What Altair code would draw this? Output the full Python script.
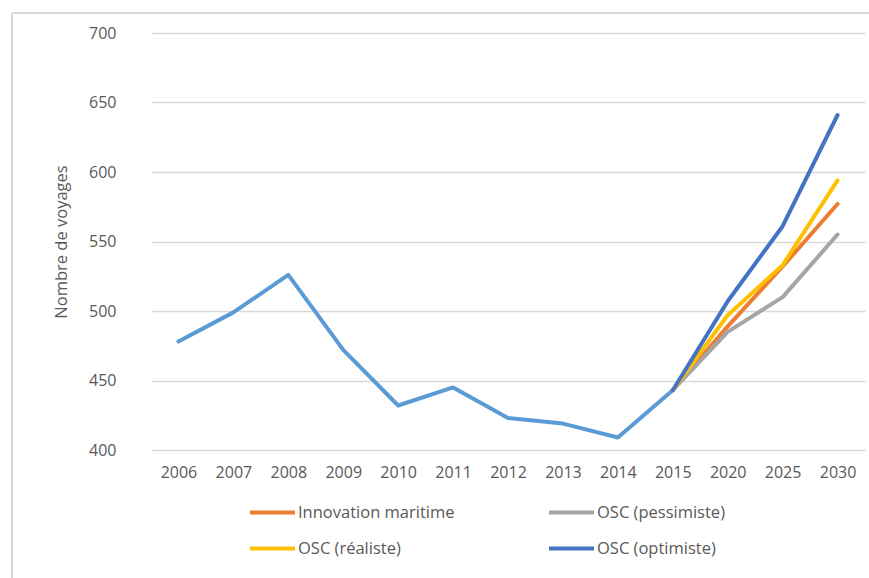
import altair as alt
import pandas as pd

years = ["2006", "2007", "2008", "2009", "2010", "2011", "2012", "2013",
         "2014", "2015", "2020", "2025", "2030"]
hist_years = years[:10]
hist_values = [478, 499, 526, 472, 432, 445, 423, 419, 409, 443]

proj_years = ["2015", "2020", "2025", "2030"]
series_names = ["Innovation maritime", "OSC (pessimiste)", "OSC (réaliste)", "OSC (optimiste)"]
innovation = [443, 489, 532, 577]
pessimiste = [443, 485, 510, 555]
realiste = [443, 497, 533, 594]
optimiste = [443, 507, 561, 641]
series_colors = ["#ED7D31", "#A5A5A5", "#FFC000", "#4472C4"]

# legend fills column by column: reorder so rows read as in the reference
legend_order = [series_names[0], series_names[2], series_names[1], series_names[3]]
legend_colors = [series_colors[0], series_colors[2], series_colors[1], series_colors[3]]

hist_df = pd.DataFrame({"year": hist_years, "value": hist_values})
rows = []
for name, vals in zip(series_names, [innovation, pessimiste, realiste, optimiste]):
    for y, v in zip(proj_years, vals):
        rows.append({"year": y, "value": v, "series": name})
proj_df = pd.DataFrame(rows)

FONT = "Open Sans"
TXT = "#595959"
GRID = "#D9D9D9"

x_enc = alt.X("year:O", sort=years, scale=alt.Scale(domain=years, padding=0.5),
              axis=alt.Axis(title=None, labelAngle=0, ticks=False, domain=True,
                            domainColor=GRID, labelPadding=14, labelFontSize=16,
                            labelColor=TXT, labelFont=FONT, grid=False))
y_enc = alt.Y("value:Q", scale=alt.Scale(domain=[400, 700], nice=False, zero=False),
              axis=alt.Axis(title="Nombre de voyages", values=[400, 450, 500, 550, 600, 650, 700],
                            ticks=False, domain=False, grid=True, gridColor=GRID,
                            gridWidth=1.3, labelPadding=35, labelFontSize=16,
                            labelColor=TXT, labelFont=FONT, titleFont=FONT,
                            titleFontSize=16.5, titleFontWeight="normal",
                            titleColor=TXT, titlePadding=19))

hist = alt.Chart(hist_df).mark_line(color="#5B9BD5", strokeWidth=4, strokeCap="round",
                                     strokeJoin="round").encode(x=x_enc, y=y_enc)

proj = alt.Chart(proj_df).mark_line(strokeWidth=4, strokeCap="round",
                                     strokeJoin="round").encode(
    x=alt.X("year:O", sort=years),
    y="value:Q",
    color=alt.Color("series:N", sort=legend_order,
                    scale=alt.Scale(domain=legend_order, range=legend_colors),
                    legend=alt.Legend(title=None, orient="none", legendX=97, legendY=455,
                                      columns=2, columnPadding=86, rowPadding=3,
                                      symbolType="stroke", symbolSize=2025,
                                      symbolStrokeWidth=4, labelOffset=1,
                                      labelFontSize=16.5, labelFont=FONT,
                                      labelColor=TXT, labelLimit=300)),
)

frame_v = alt.Chart(hist_df).mark_rule(color=GRID, strokeWidth=1.5).encode(
    x=alt.value(-139), y=alt.value(-20), y2=alt.value(560))
frame_h = alt.Chart(hist_df).mark_rule(color=GRID, strokeWidth=1.5).encode(
    x=alt.value(-139), x2=alt.value(730), y=alt.value(-20))

chart = alt.layer(frame_v, frame_h, hist, proj).properties(
    width=714, height=417,
    background="white",
    autosize=alt.AutoSizeParams(type="none"),
    padding={"left": 151, "top": 33, "right": 4, "bottom": 128},
).configure_view(stroke=None)

chart.save("out.html", embed_options={"renderer": "svg", "actions": False})
